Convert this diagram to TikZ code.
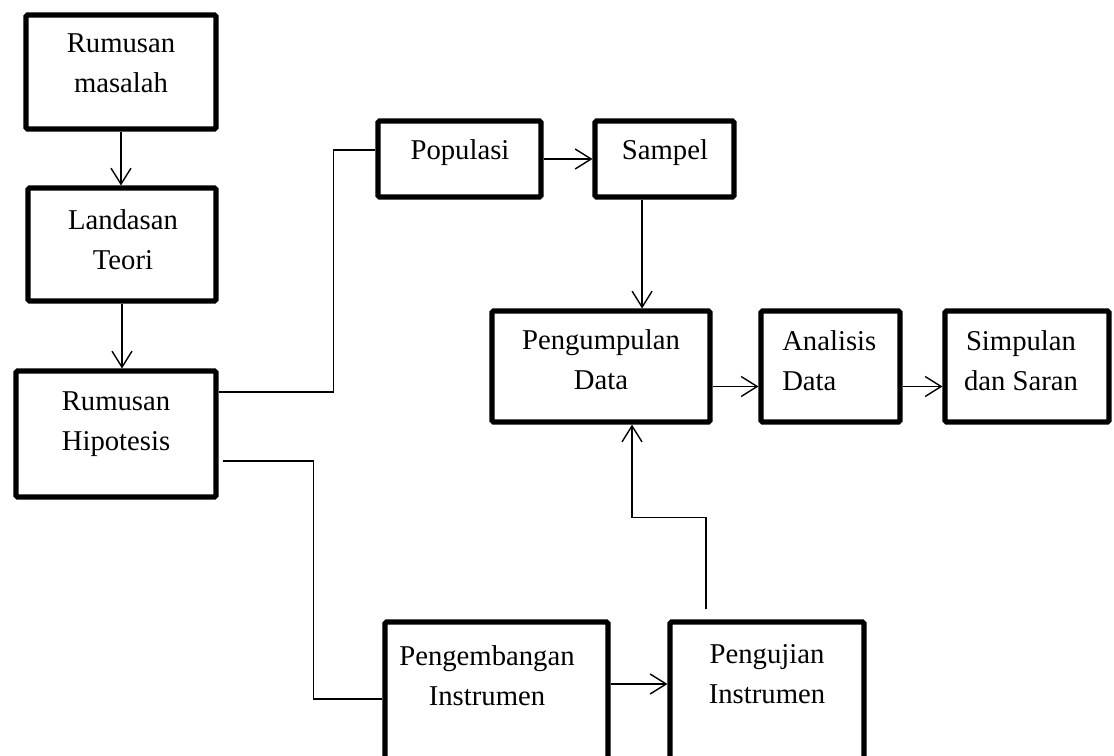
\documentclass[tikz,border=0pt]{standalone}
\usepackage{fontspec}
\setmainfont{Liberation Serif}
\usetikzlibrary{arrows.meta, positioning, calc, fit}

\begin{document}
\begin{tikzpicture}[
    x=0.025cm, y=-0.025cm,
    >={Straight Barb[length=0.4cm, width=0.5cm]},
    box/.style={rectangle, rounded corners=1pt, draw, line width=3.6pt, inner sep=0pt},
    txt/.style={font=\fontsize{20.4}{28.45}\selectfont, align=center, inner sep=0pt, anchor=north},
    link/.style={line width=1pt},
    arrow/.style={->, line width=1pt}
]

\useasboundingbox (0,0) rectangle (1114,756);

% Left column
\node[box, fit={(26,15) (216,129)}] (masalah) {};
\node[txt] (masalah-t) at (121,33) {Rumusan\\masalah};

\node[box, fit={(28,188) (216,301)}] (teori) {};
\node[txt] (teori-t) at (123,209) {Landasan\\Teori};

\node[box, fit={(16,371) (216,497)}] (hipotesis) {};
\node[txt] (hipotesis-t) at (116,391) {Rumusan\\Hipotesis};

% Top row
\node[box, fit={(378,121) (541,197)}] (populasi) {};
\node[txt] (populasi-t) at (460,139) {Populasi};

\node[box, fit={(595,121) (734,197)}] (sampel) {};
\node[txt] (sampel-t) at (665,139) {Sampel};

% Middle row
\node[box, fit={(492,311) (710,422)}] (kumpul) {};
\node[txt] (kumpul-t) at (601,329) {Pengumpulan\\Data};

\node[box, fit={(761,311) (900,422)}] (analisis) {};
\node[txt, align=left, anchor=north west] (analisis-t) at (782,330) {Analisis\\Data};

\node[box, fit={(945,311) (1109,422)}] (simpulan) {};
\node[txt] (simpulan-t) at (1021,330) {Simpulan\\dan Saran};

% Bottom row
\node[box, fit={(385,622) (608,776)}] (kembang) {};
\node[txt] (kembang-t) at (487,645) {Pengembangan\\Instrumen};

\node[box, fit={(670,622) (864,776)}] (uji) {};
\node[txt] (uji-t) at (767,644) {Pengujian\\Instrumen};

% Arrows
\draw[arrow] (masalah) -- (masalah |- teori.north);
\draw[arrow] (teori) -- (teori |- hipotesis.north);

\draw[link] ([yshift=1.05cm]hipotesis.east) -- ++(115,0) |- ([yshift=0.225cm]populasi.west);
\draw[link] ([xshift=0.1cm, yshift=-0.675cm]hipotesis.east) -- ++(91,0) |- (kembang.west);

\draw[arrow] (populasi) -- (sampel);
\draw[arrow] ([xshift=-0.56cm]sampel.south) -- ([xshift=-0.56cm]sampel.south |- kumpul.north);

\draw[arrow] ([yshift=-0.5cm]kumpul.east) -- ([yshift=-0.5cm]analisis.west);
\draw[arrow] ([yshift=-0.5cm]analisis.east) -- ([yshift=-0.5cm]simpulan.west);

\draw[arrow] ([yshift=0.375cm]kembang.east) -- ([yshift=0.375cm]uji.west);
\draw[arrow] ([xshift=-1.525cm, yshift=0.25cm]uji.north) -- ++(0,-92) -| ([xshift=0.775cm]kumpul.south);

\end{tikzpicture}
\end{document}
